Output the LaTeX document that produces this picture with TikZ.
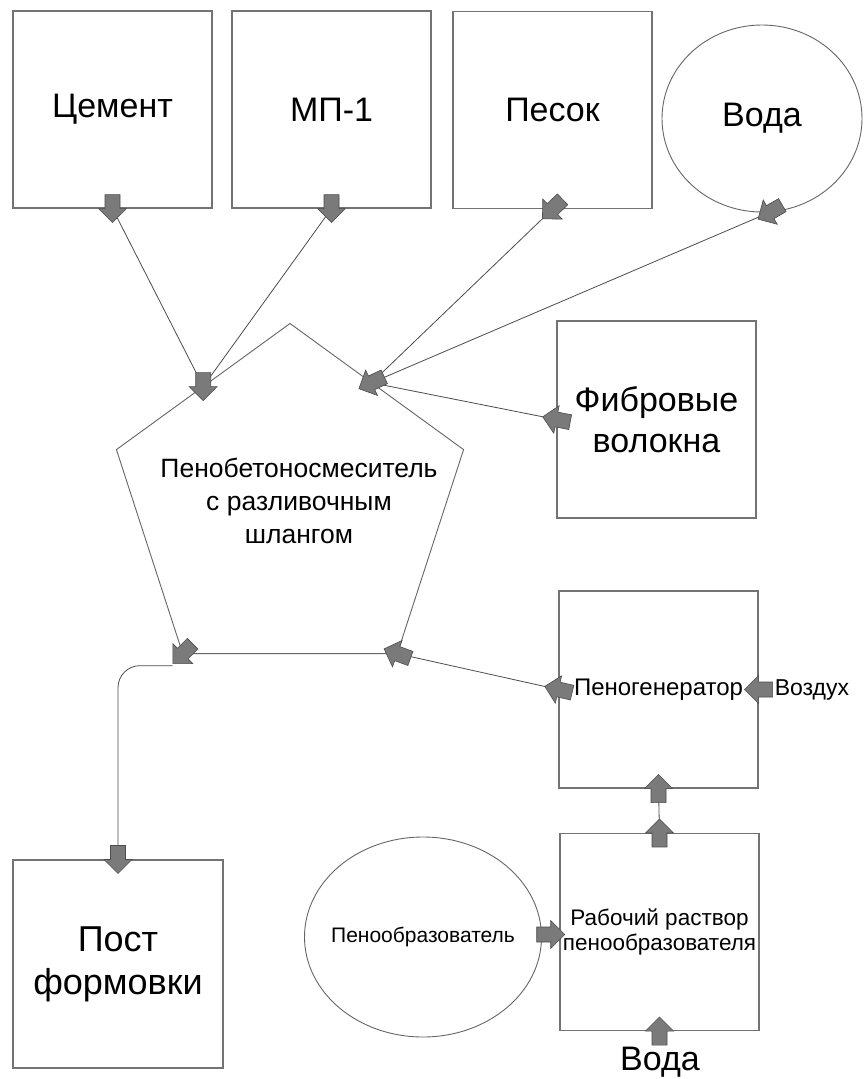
\documentclass[tikz,border=0pt]{standalone}
\usepackage{fontspec}
\setmainfont{Liberation Sans}
\usetikzlibrary{positioning,shapes.geometric,calc}

\begin{document}
\begin{tikzpicture}[x=1pt, y=-1pt,
    matbox/.style={draw=black!55, line width=1.1pt, minimum width=199pt,
        minimum height=197pt, inner sep=0pt, align=center},
    matcirc/.style={draw=black!60, line width=0.9pt, ellipse,
        inner sep=0pt, align=center},
    bigtxt/.style={font=\fontsize{34}{41}\selectfont},
    midtxt/.style={font=\fontsize{24}{28}\selectfont},
    smltxt/.style={font=\fontsize{22.5}{25.5}\selectfont},
    flow/.style={draw=black!70, line width=0.8pt},
    blkarr/.style={fill=black!52, draw=black!70, line width=0.6pt,
        line join=miter},
    blk/.pic={\path[blkarr] (-14,-7.5) -- (0,-7.5) -- (0,-14) -- (14,0)
        -- (0,14) -- (0,7.5) -- (-14,7.5) -- cycle;},
]
\useasboundingbox[fill=white] (0,0) rectangle (866,1079);

% Raw materials
\node[matbox, bigtxt] (cem) at (112.5,109.5) {Цемент};
\node[matbox, bigtxt] (mp) at (331.5,109.5) {МП-1};
\node[matbox, bigtxt] (pes) at (552.5,110) {Песок};
\node[matcirc, bigtxt, minimum width=200pt, minimum height=187pt]
    (voda) at (762,118.5) {Вода};
\node[matbox, bigtxt] (fib) at (656.5,419.5) {Фибровые\\волокна};

% Mixer
\node[draw=black!60, line width=0.9pt, regular polygon,
    regular polygon sides=5, minimum size=365pt, inner sep=0pt,
    outer sep=0pt] (mix) at (290,506) {};
\node[align=center, font=\fontsize{26.5}{33}\selectfont] (mixtxt)
    at (299,501) {Пенобетоносмеситель\\с разливочным\\шлангом};

% Foam line
\node[matbox, midtxt] (gen) at (658.5,689.5) {Пеногенератор};
\node[font=\fontsize{23}{28}\selectfont, inner sep=2pt] (vozd) at (812,690) {Воздух};
\node[matbox, smltxt] (rab) at (659.5,932) {Рабочий раствор\\пенообразователя};
\node[matcirc, font=\fontsize{21}{24}\selectfont, minimum width=237pt,
    minimum height=200pt] (peno) at (423,937)
    {\makebox[0pt]{Пенообразователь}};
\node[bigtxt, inner sep=2pt] (vodab) at (660,1062) {Вода};

% Moulding post
\node[matbox, font=\fontsize{36}{43}\selectfont, minimum width=210pt,
    minimum height=208pt] (post) at (118,964) {Пост\\формовки};

% Connectors
\coordinate (inL) at ($(mix.corner 1)!0.5!(mix.corner 2)$);
\coordinate (inR) at ($(mix.corner 1)!0.47!(mix.corner 5)$);
\draw[flow] (cem.south) -- (inL);
\draw[flow] (mp.south) -- (inL);
\draw[flow] (pes.south) -- (inR);
\draw[flow] (voda.-85) -- (inR);
\draw[flow] (fib.west) -- (inR);
\draw[flow] (gen.west) -- (mix.corner 4);
\draw[flow, rounded corners=22pt] ($(mix.corner 3)+(-10,12)$) -| (post.north);
\draw[flow] (rab.north) -- (gen.south);
\draw[flow] (peno.east) -- (rab.west);
\draw[flow] (vozd.west) -- (gen.east);
\draw[flow] (vodab.north) -- (rab.south);

% Arrow markers
\pic[rotate=-90] at (cem.south) {blk};
\pic[rotate=-90] at (mp.south) {blk};
\pic[rotate=224] at (pes.south) {blk};
\pic[rotate=210] at (voda.-85) {blk};
\pic[rotate=169] at (fib.west) {blk};
\pic[rotate=-90] at (inL) {blk};
\pic[rotate=205] at (inR) {blk};
\pic[rotate=167] at (gen.west) {blk};
\pic[rotate=160] at (mix.corner 4) {blk};
\pic[rotate=225] at (mix.corner 3) {blk};
\pic[rotate=-90] at (post.north) {blk};
\pic[rotate=180] at (gen.east) {blk};
\pic[rotate=90] at (gen.south) {blk};
\pic[rotate=90] at (rab.north) {blk};
\pic at ($(peno.east)!0.5!(rab.west)$) {blk};
\pic[rotate=90] at (rab.south) {blk};

\end{tikzpicture}
\end{document}
